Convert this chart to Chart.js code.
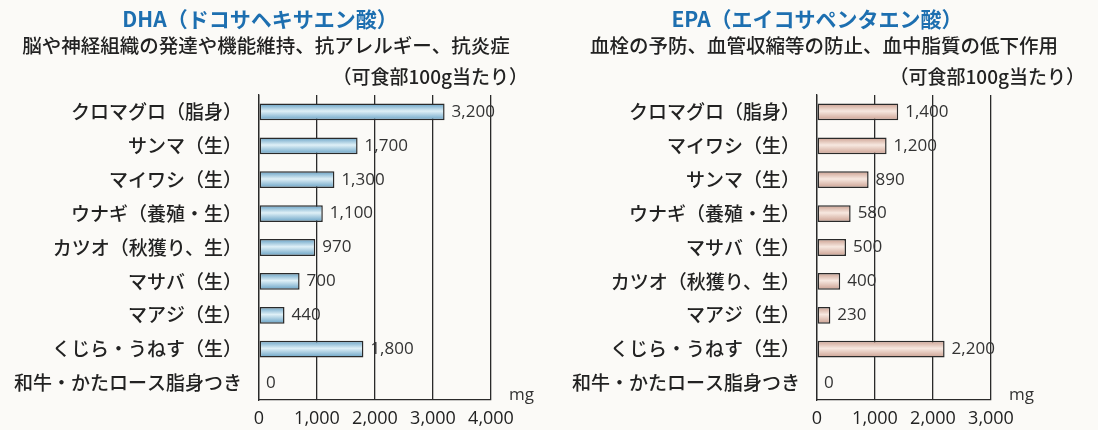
<!DOCTYPE html>
<html lang="ja">
<head>
<meta charset="utf-8">
<script src="https://cdn.jsdelivr.net/npm/chart.js@4"></script>
<style>
  html, body { margin: 0; padding: 0; background: #fbfaf7; }
  body { width: 1098px; height: 430px; position: relative; overflow: hidden;
    font-family: "Noto Sans CJK JP", "Noto Sans", sans-serif; color: #222; }
  .panel { position: absolute; top: 0; width: 549px; height: 430px; }
  .panel canvas { position: absolute; left: 0; top: 0; }
  .title { position: absolute; top: 3px; font-size: 21px; font-weight: 700; color: #1d6fb0; white-space: nowrap; transform: translateX(-50%); }
  .sub { position: absolute; top: 30px; font-size: 19.5px; font-weight: 500; white-space: nowrap; transform: translateX(-50%); }
  .unit { position: absolute; top: 62px; font-size: 19px; font-weight: 500; white-space: nowrap; }
</style>
</head>
<body>
<div class="panel" style="left:0">
  <canvas id="dhaChart" width="549" height="430"></canvas>
  <div class="title" style="left:260px">DHA（ドコサヘキサエン酸）</div>
  <div class="sub" style="left:266px">脳や神経組織の発達や機能維持、抗アレルギー、抗炎症</div>
  <div class="unit" style="right:21px">（可食部100g当たり）</div>
</div>
<div class="panel" style="left:549px">
  <canvas id="epaChart" width="549" height="430"></canvas>
  <div class="title" style="left:268px">EPA（エイコサペンタエン酸）</div>
  <div class="sub" style="left:275px">血栓の予防、血管収縮等の防止、血中脂質の低下作用</div>
  <div class="unit" style="right:13px">（可食部100g当たり）</div>
</div>
<script>
// Data
const dhaFoods = ['クロマグロ（脂身）', 'サンマ（生）', 'マイワシ（生）', 'ウナギ（養殖・生）', 'カツオ（秋獲り、生）', 'マサバ（生）', 'マアジ（生）', 'くじら・うねす（生）', '和牛・かたロース脂身つき']
const dhaValues = [3200, 1700, 1300, 1100, 970, 700, 440, 1800, 0]
const dhaTicks = [0, 1000, 2000, 3000, 4000]

const epaFoods = ['クロマグロ（脂身）', 'マイワシ（生）', 'サンマ（生）', 'ウナギ（養殖・生）', 'マサバ（生）', 'カツオ（秋獲り、生）', 'マアジ（生）', 'くじら・うねす（生）', '和牛・かたロース脂身つき']
const epaValues = [1400, 1200, 890, 580, 500, 400, 230, 2200, 0]
const epaTicks = [0, 1000, 2000, 3000]

const FONT = '"Noto Sans CJK JP", "Noto Sans", sans-serif'
const NUM_FONT = '"Open Sans", "DejaVu Sans", sans-serif'

// bar fill: dark edges, light stripe in the middle
function barFill(colors) {
  return (ctx) => {
    const chart = ctx.chart
    const y = chart.scales && chart.scales.y
    if (!y || ctx.dataIndex === undefined) return colors[1]
    const cy = y.getPixelForValue(ctx.dataIndex)
    if (!isFinite(cy)) return colors[1]
    const g = chart.ctx.createLinearGradient(0, cy - 8, 0, cy + 8)
    g.addColorStop(0, colors[0])
    g.addColorStop(0.45, colors[1])
    g.addColorStop(1, colors[0])
    return g
  }
}

// value labels + "mg" unit
const valueLabels = {
  id: 'valueLabels',
  afterDatasetsDraw(chart) {
    const ctx = chart.ctx
    const meta = chart.getDatasetMeta(0)
    ctx.save()
    ctx.font = '17px ' + NUM_FONT
    ctx.fillStyle = '#333'
    ctx.textBaseline = 'middle'
    ctx.textAlign = 'left'
    meta.data.forEach((bar, i) => {
      const v = chart.data.datasets[0].data[i]
      ctx.fillText(v.toLocaleString('en-US'), bar.x + 7, bar.y)
    })
    ctx.fillText('mg', chart.chartArea.right + 18, chart.chartArea.bottom - 5)
    ctx.restore()
  }
}

function makeChart(canvasId, foods, values, ticks, colors, axisWidth, padRight) {
  const max = ticks[ticks.length - 1]
  return new Chart(document.getElementById(canvasId), {
    type: 'bar',
    data: {
      labels: foods,
      datasets: [{
        data: values,
        backgroundColor: barFill(colors),
        borderColor: '#2a2a2a',
        borderWidth: 1.5,
        borderSkipped: false,
        barPercentage: 0.9,
        categoryPercentage: 0.55
      }]
    },
    options: {
      indexAxis: 'y',
      responsive: false,
      animation: false,
      layout: { padding: { top: 95, right: padRight, left: 0, bottom: 0 } },
      plugins: { legend: { display: false }, tooltip: { enabled: false } },
      scales: {
        x: {
          min: 0,
          max: max,
          afterBuildTicks: (scale) => { scale.ticks = ticks.map(v => ({ value: v })) },
          afterFit: (scale) => { scale.height = 30 },
          grid: { color: '#2a2a2a', lineWidth: 1.3, drawTicks: false },
          border: { color: '#2a2a2a', width: 1.3 },
          ticks: {
            padding: 8,
            color: '#222',
            font: { family: NUM_FONT, size: 18 },
            maxRotation: 0,
            callback: (v) => v.toLocaleString('en-US')
          }
        },
        y: {
          afterFit: (scale) => { scale.width = axisWidth },
          grid: { display: false },
          border: { color: '#2a2a2a', width: 1.3 },
          ticks: {
            padding: 9,
            color: '#222',
            font: { family: FONT, size: 19, weight: '500' }
          }
        }
      }
    },
    plugins: [valueLabels]
  })
}

makeChart('dhaChart', dhaFoods, dhaValues, dhaTicks, ['#6aa3c6', '#dff0f7'], 259, 58)
makeChart('epaChart', epaFoods, epaValues, epaTicks, ['#cda293', '#f7e8e0'], 268, 107)
</script>
</body>
</html>
